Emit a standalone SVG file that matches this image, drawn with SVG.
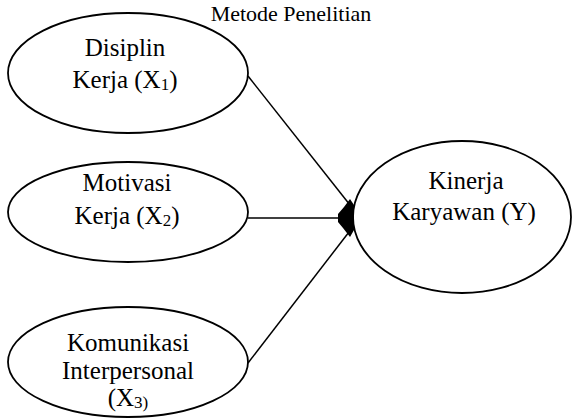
<svg xmlns="http://www.w3.org/2000/svg" width="578" height="418" viewBox="0 0 578 418">
<style>
.n{fill:#fff;stroke:#000;stroke-width:1.8}
text{font-family:"Liberation Serif","Times New Roman",serif;font-size:25px;fill:#000;text-anchor:middle}
.s{font-size:17px}
.c{stroke:#000;stroke-width:1.5;fill:none}
</style>
<rect width="578" height="418" fill="#fff"/>
<text x="291" y="21" style="font-size:22px">Metode Penelitian</text>
<g id="x1"><ellipse class="n" cx="128" cy="73" rx="120" ry="60"/>
<text x="125" y="56">Disiplin</text>
<text x="125" y="88">Kerja (X<tspan class="s" dy="2">1</tspan><tspan dy="-2">)</tspan></text></g>
<g id="x2"><ellipse class="n" cx="128" cy="212" rx="120" ry="50"/>
<text x="127" y="191">Motivasi</text>
<text x="127" y="224">Kerja (X<tspan class="s" dy="2">2</tspan><tspan dy="-2">)</tspan></text></g>
<g id="x3"><ellipse class="n" cx="128" cy="362" rx="120" ry="55"/>
<text x="128" y="351">Komunikasi</text>
<text x="128" y="379">Interpersonal</text>
<text x="128" y="406">(X<tspan class="s" dy="2">3)</tspan></text></g>
<g id="y"><ellipse class="n" cx="462" cy="217" rx="109" ry="76"/>
<text x="466" y="189">Kinerja</text>
<text x="464" y="220">Karyawan (Y)</text></g>
<g id="connectors">
<line class="c" x1="248" y1="76" x2="350" y2="205"/>
<line class="c" x1="248" y1="218" x2="352" y2="218"/>
<line class="c" x1="248" y1="363" x2="349" y2="232"/>
<path d="M350,199 L354,205 L354,230 L350,237 L343,228 L338,222 L338,214 L344,207 z" fill="#000"/>
</g>
</svg>
